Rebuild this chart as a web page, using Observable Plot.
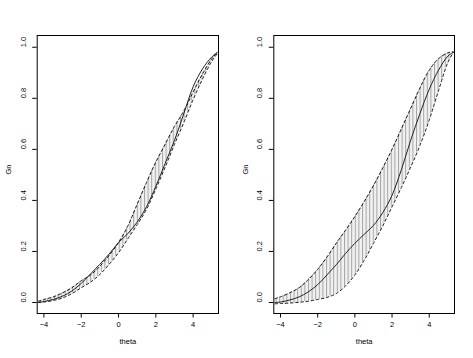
<!DOCTYPE html>
<html>
<head>
<meta charset="utf-8">
<script src="https://cdn.jsdelivr.net/npm/d3@7"></script>
<script src="https://cdn.jsdelivr.net/npm/@observablehq/plot@0.6"></script>
<style>
  html, body { margin: 0; padding: 0; background: white; }
  #wrap { display: flex; width: 473px; height: 358px; }
</style>
</head>
<body>
<svg width="0" height="0" style="position:absolute">
  <defs>
    <pattern id="hatch" patternUnits="userSpaceOnUse" width="3.6" height="8">
      <rect x="0" y="0" width="3.6" height="8" fill="#f1f1f1"></rect>
      <rect x="0" y="0" width="1" height="8" fill="#a4a4a4"></rect>
    </pattern>
  </defs>
</svg>
<div id="wrap"></div>
<script>
// grid of theta values
const theta = [-4.3, -4, -3.5, -3, -2.5, -2, -1.5, -1, -0.5, 0, 0.5, 1, 1.5, 2, 2.5, 3, 3.5, 4, 4.5, 5, 5.3];

// left panel
const main1  = [0.0, 0.004, 0.012, 0.025, 0.045, 0.075, 0.112, 0.15, 0.19, 0.235, 0.27, 0.315, 0.375, 0.455, 0.545, 0.635, 0.74, 0.845, 0.915, 0.962, 0.98];
const lower1 = [0.0, 0.002, 0.008, 0.018, 0.035, 0.058, 0.08, 0.11, 0.15, 0.195, 0.25, 0.305, 0.365, 0.445, 0.53, 0.62, 0.705, 0.795, 0.875, 0.945, 0.975];
const upper1 = [0.005, 0.012, 0.022, 0.038, 0.058, 0.085, 0.108, 0.142, 0.185, 0.235, 0.3, 0.385, 0.47, 0.55, 0.62, 0.69, 0.75, 0.825, 0.895, 0.955, 0.98];

// right panel
const main2  = [0.0, 0.002, 0.01, 0.022, 0.042, 0.07, 0.108, 0.148, 0.192, 0.232, 0.267, 0.302, 0.352, 0.42, 0.52, 0.635, 0.74, 0.835, 0.91, 0.965, 0.98];
const lower2 = [-0.005, -0.004, -0.002, 0.001, 0.005, 0.012, 0.02, 0.035, 0.065, 0.108, 0.165, 0.232, 0.3, 0.375, 0.45, 0.53, 0.615, 0.715, 0.83, 0.94, 0.98];
const upper2 = [0.015, 0.022, 0.038, 0.058, 0.09, 0.13, 0.178, 0.232, 0.283, 0.337, 0.395, 0.458, 0.527, 0.6, 0.68, 0.76, 0.84, 0.91, 0.955, 0.978, 0.982];

const xTicks = [-4, -2, 0, 2, 4];
const yTicks = [0, 0.2, 0.4, 0.6, 0.8, 1.0];
const xLabel = "theta";
const yLabel = "Gn";

function panel(main, lower, upper, width, marginLeft, marginRight) {
  const rows = theta.map((t, i) => ({theta: t, g: main[i], lo: lower[i], hi: upper[i]}));
  return Plot.plot({
    width, height: 358,
    marginLeft, marginRight, marginTop: 35, marginBottom: 45,
    x: {domain: [-4.36, 5.36]},
    y: {domain: [-0.043, 1.046]},
    style: {fontFamily: "'Liberation Sans', Arial, sans-serif", fontSize: "7.5px", background: "white", color: "black"},
    marks: [
      Plot.areaY(rows, {x: "theta", y1: "lo", y2: "hi", fill: "url(#hatch)", curve: "catmull-rom"}),
      Plot.lineY(rows, {x: "theta", y: "lo", stroke: "black", strokeWidth: 0.9, strokeDasharray: "2.6,2.6", curve: "catmull-rom"}),
      Plot.lineY(rows, {x: "theta", y: "hi", stroke: "black", strokeWidth: 0.9, strokeDasharray: "2.6,2.6", curve: "catmull-rom"}),
      Plot.lineY(rows, {x: "theta", y: "g", stroke: "#222", strokeWidth: 1, curve: "catmull-rom"}),
      Plot.frame({stroke: "black"}),
      Plot.axisX(xTicks, {tickSize: 4.5, tickPadding: 3.5, label: null}),
      Plot.axisY(yTicks, {tickSize: 4.5, fill: "none", label: null}),
      Plot.text(yTicks, {y: d => d, text: d => d.toFixed(1), frameAnchor: "left", dx: -14, rotate: -90}),
      Plot.text([xLabel], {frameAnchor: "bottom", dy: 30}),
      Plot.text([yLabel], {frameAnchor: "left", dx: -28.5, rotate: -90})
    ]
  });
}

const wrap = document.getElementById("wrap");
wrap.append(panel(main1, lower1, upper1, 236, 36.7, 18));
wrap.append(panel(main2, lower2, upper2, 237, 37.3, 19));
</script>
</body>
</html>
